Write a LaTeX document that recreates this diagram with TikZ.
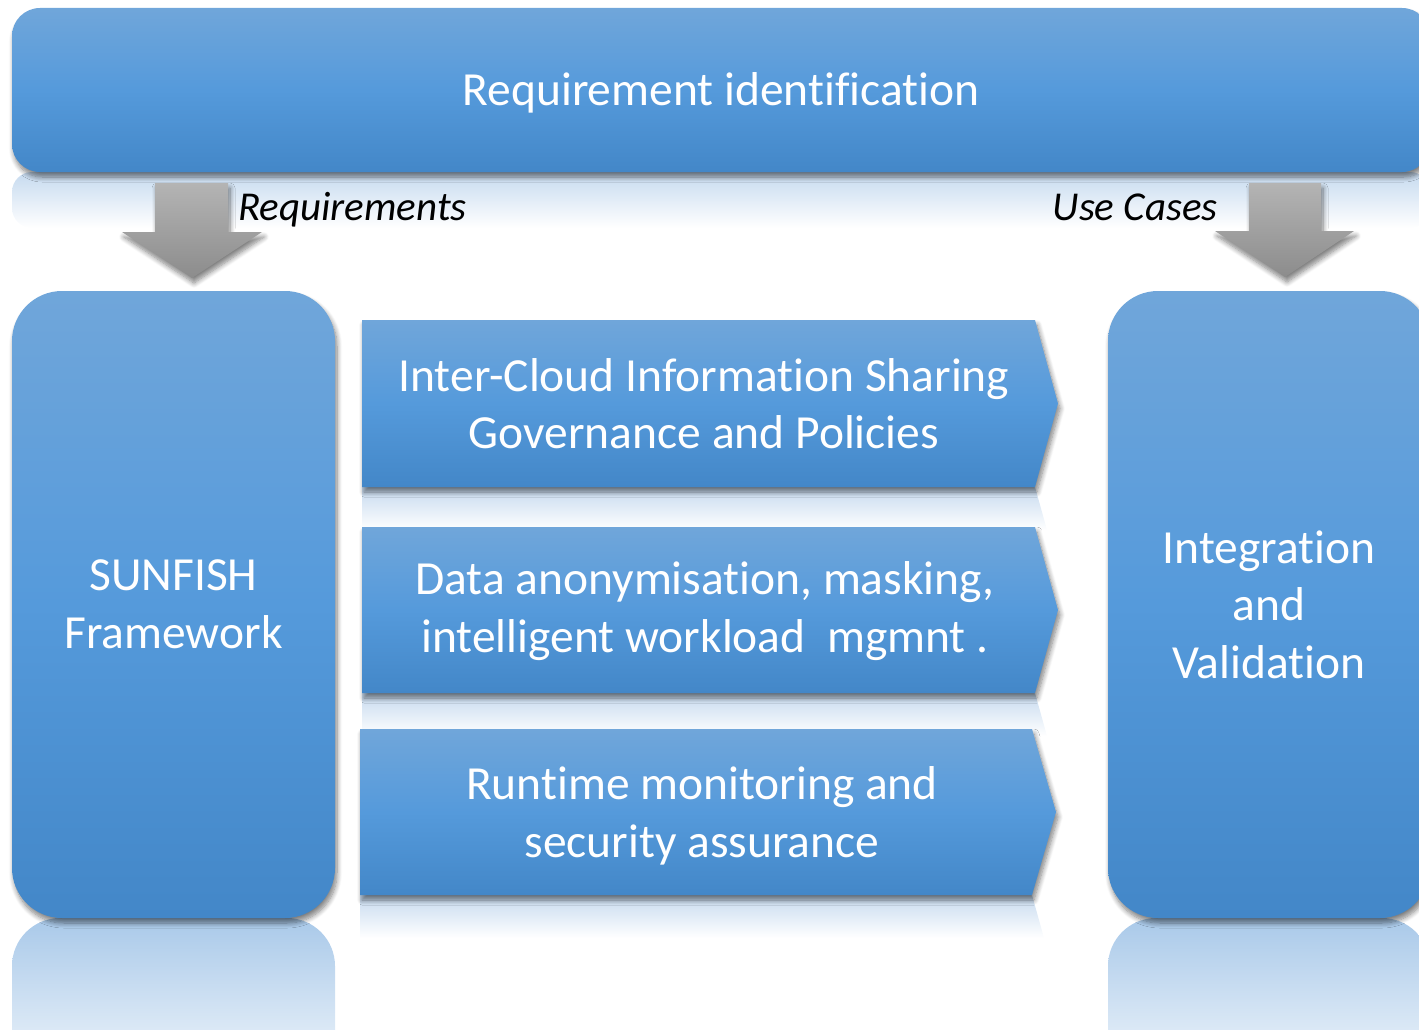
\documentclass[tikz,border=0pt]{standalone}
\usepackage{fontspec}
\setmainfont[Ligatures={NoCommon,NoContextual}, RawFeature={-liga;-clig;-calt}]{Carlito}
\usetikzlibrary{shadows.blur}
\definecolor{btop}{HTML}{70A6DA}
\definecolor{bmid}{HTML}{559ADB}
\definecolor{bbot}{HTML}{4387C8}
\definecolor{rtop}{HTML}{A9C9E9}
\definecolor{rlite}{HTML}{C6DAEF}
\definecolor{gtop}{HTML}{B4B4B4}
\definecolor{gbot}{HTML}{8C8C8C}
\tikzset{
  softshadow/.style={blur shadow={shadow xshift=2pt, shadow yshift=-5pt, shadow blur radius=5pt, shadow blur steps=8, shadow opacity=50}},
  bluefill/.style={top color=btop, bottom color=bbot, middle color=bmid},
  bigbox/.style={bluefill, softshadow, draw=none, inner sep=0pt, text=white, align=center,
    font=\fontsize{47.5}{57.5}\selectfont},
  chevtext/.style={inner sep=0pt, text=white, align=center, font=\fontsize{47.5}{57.5}\selectfont},
  chevron/.style={bluefill, softshadow},
  grayarrow/.style={top color=gtop, bottom color=gbot, softshadow},
  lbl/.style={inner sep=0pt, text=black, font=\fontsize{41}{49}\selectfont\itshape},
  reflect/.style={top color=rtop, bottom color=white},
  reflectlite/.style={top color=rlite, bottom color=white}
}
\begin{document}
\begin{tikzpicture}[x=1pt,y=-1pt]
\useasboundingbox (0,0) rectangle (1419,1030);
\clip (0,0) rectangle (1419,1030);
% reflections
\shade[reflectlite, rounded corners=20pt] (12,172) rectangle (1430,228);
\shade[reflect, rounded corners=48pt] (12,918) rectangle (335,1110);
\shade[reflect, rounded corners=48pt] (1108,918) rectangle (1430,1110);
\shade[reflectlite] (362,487) -- (1035,487) -- (1047,530) -- (362,530) -- cycle;
\shade[reflectlite] (362,693) -- (1035,693) -- (1047,736) -- (362,736) -- cycle;
\shade[reflectlite] (360,895) -- (1032,895) -- (1044,938) -- (360,938) -- cycle;
% main boxes
\node[bigbox, minimum width=1418pt, minimum height=164pt, rounded corners=28pt] (req) at (721,90) {};
\node[chevtext] (reqt) at (721,92.5) {Requirement identification};
\node[bigbox, minimum width=323pt, minimum height=627pt, rounded corners=50pt] (sun) at (173.5,604.5) {SUNFISH\\Framework};
\node[bigbox, minimum width=322pt, minimum height=627pt, rounded corners=50pt] (integ) at (1269,604.5) {Integration\\and\\Validation};
% chevrons
\shade[chevron] (362,320) -- (1035,320) -- (1058,403.5) -- (1035,487) -- (362,487) -- cycle;
\node[chevtext] (c1) at (704,403.5) {Inter-Cloud Information Sharing\\Governance and Policies};
\shade[chevron] (362,527) -- (1035,527) -- (1058,610) -- (1035,693) -- (362,693) -- cycle;
\node[chevtext] (c2) at (705,611) {Data anonymisation, masking,\\intelligent workload\ \ mgmnt~.};
\shade[chevron] (360,729) -- (1032,729) -- (1056,812) -- (1032,895) -- (360,895) -- cycle;
\node[chevtext] (c3) at (702,816) {Runtime monitoring and\\security assurance};
% gray block arrows
\shade[grayarrow] (155,183) -- (228,183) -- (228,232) -- (262,232) -- (192,278) -- (122,232) -- (155,232) -- cycle;
\shade[grayarrow] (1249,183) -- (1321,183) -- (1321,231) -- (1354,231) -- (1285,277) -- (1215,231) -- (1249,231) -- cycle;
% labels
\node[lbl, anchor=base west] (lreq) at (238,220) {Requirements};
\node[lbl, anchor=base east] (luse) at (1218,220) {Use Cases};
\end{tikzpicture}
\end{document}
